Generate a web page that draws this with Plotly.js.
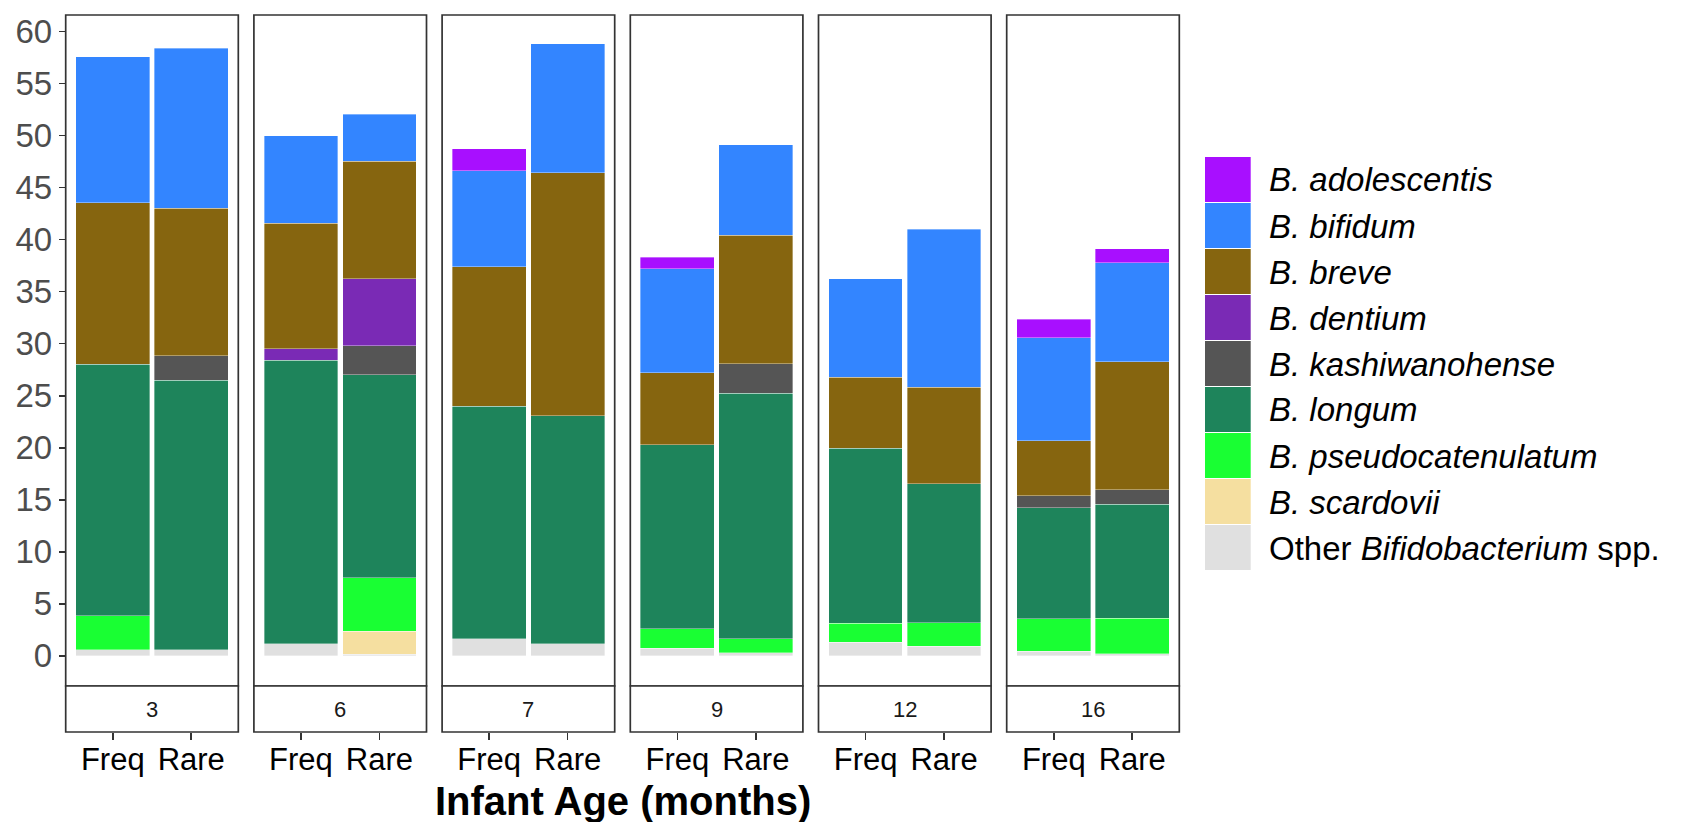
<!DOCTYPE html>
<html>
<head>
<meta charset="utf-8">
<script src="https://cdn.plot.ly/plotly-3.0.1.min.js"></script>
<style>html,body{margin:0;padding:0;background:#fff;}#chart{width:1682px;height:822px;}</style>
</head>
<body>
<div id="chart"></div>
<script>
// ---- data ----
const ages = ['3', '6', '7', '9', '12', '16'];
const groups = ['Freq', 'Rare'];
// values ordered: [3 Freq, 3 Rare, 6 Freq, 6 Rare, 7 Freq, 7 Rare, 9 Freq, 9 Rare, 12 Freq, 12 Rare, 16 Freq, 16 Rare]
const other       = [0.60, 0.58, 1.18, 0.15, 1.63, 1.15, 0.74, 0.32, 1.32, 0.90, 0.42, 0.20];
const scardovii   = [0, 0, 0, 2.22, 0, 0, 0, 0, 0, 0, 0, 0];
const pseudocat   = [3.24, 0, 0, 5.16, 0, 0, 1.85, 1.31, 1.82, 2.27, 3.14, 3.39];
const longum      = [24.19, 25.92, 27.24, 19.51, 22.37, 21.95, 17.69, 23.62, 16.82, 13.36, 10.69, 10.99];
const kashiwa     = [0, 2.36, 0, 2.75, 0, 0, 0, 2.81, 0, 0, 1.16, 1.37];
const dentium     = [0, 0, 1.11, 6.44, 0, 0, 0, 0, 0, 0, 0, 0];
const breve       = [15.51, 14.17, 12.07, 11.31, 13.42, 23.32, 6.92, 12.37, 6.82, 9.29, 5.25, 12.34];
const bifidum     = [14.06, 15.37, 8.38, 4.52, 9.22, 12.43, 9.99, 8.68, 9.48, 15.19, 9.93, 9.51];
const adolescentis= [0, 0, 0, 0, 2.09, 0, 1.13, 0, 0, 0, 1.77, 1.32];

// stacking order bottom -> top
const speciesNames = ['Other <i>Bifidobacterium</i> spp.', '<i>B. scardovii</i>', '<i>B. pseudocatenulatum</i>',
  '<i>B. longum</i>', '<i>B. kashiwanohense</i>', '<i>B. dentium</i>', '<i>B. breve</i>', '<i>B. bifidum</i>', '<i>B. adolescentis</i>'];
const speciesValues = [other, scardovii, pseudocat, longum, kashiwa, dentium, breve, bifidum, adolescentis];
const speciesColors = ['#E0E0E0', '#F5DFA0', '#19FF33', '#1E845B', '#555555', '#7A2AB5', '#86650F', '#3385FF', '#A80FFF'];

// ---- layout helpers (pixels -> paper) ----
const W = 1682, H = 822;
const fx = p => p / W;
const fy = p => 1 - p / H;
const panelLeft0 = 65.7, panelStep = 188.2, panelW = 172.6;
const panelTop = 15, panelBottom = 686, stripBottom = 732;
const FONT = '"Liberation Sans", Arial, Helvetica, sans-serif';

const traces = [];
const layout = {
  width: W, height: H,
  margin: {l: 0, r: 0, t: 0, b: 0},
  paper_bgcolor: '#fff', plot_bgcolor: 'rgba(0,0,0,0)',
  barmode: 'stack', bargap: 0,
  showlegend: false,
  font: {family: FONT},
  shapes: [], annotations: [],
  yaxis: {
    domain: [fy(panelBottom), fy(panelTop)],
    range: [-2.9, 61.6], dtick: 5, tick0: 0,
    anchor: 'free', position: fx(panelLeft0),
    ticks: 'outside', ticklen: 7, tickwidth: 1.5, tickcolor: '#333333',
    tickfont: {family: FONT, size: 33, color: '#4D4D4D'},
    showgrid: false, zeroline: false, showline: false, fixedrange: true
  }
};

ages.forEach((age, p) => {
  const ax = p === 0 ? 'x' : 'x' + (p + 1);
  const axKey = p === 0 ? 'xaxis' : 'xaxis' + (p + 1);
  const left = panelLeft0 + panelStep * p, right = left + panelW;
  layout[axKey] = {
    domain: [fx(left), fx(right)],
    range: [-0.6, 1.6], type: 'category',
    anchor: 'free', position: fy(stripBottom),
    ticks: 'outside', ticklen: 7, tickwidth: 1.5, tickcolor: '#333333',
    ticklabelstandoff: -7,
    tickfont: {family: FONT, size: 31, color: '#000000'},
    showgrid: false, zeroline: false, showline: false, fixedrange: true
  };
  speciesValues.forEach((vals, s) => {
    traces.push({
      type: 'bar', xaxis: ax, yaxis: 'y',
      x: groups,
      y: [vals[2 * p] || null, vals[2 * p + 1] || null],
      width: 0.94,
      name: speciesNames[s],
      marker: {color: speciesColors[s], line: {color: 'rgba(255,255,255,0.6)', width: 0.6}},
      hoverinfo: 'skip'
    });
  });
  // panel border
  layout.shapes.push({type: 'rect', xref: 'paper', yref: 'paper', x0: fx(left), x1: fx(right),
    y0: fy(panelBottom), y1: fy(panelTop), line: {color: '#333333', width: 1.7}, fillcolor: 'rgba(0,0,0,0)', layer: 'above'});
  // strip box
  layout.shapes.push({type: 'rect', xref: 'paper', yref: 'paper', x0: fx(left), x1: fx(right),
    y0: fy(stripBottom), y1: fy(panelBottom), line: {color: '#333333', width: 1.7}, fillcolor: '#FFFFFF', layer: 'above'});
  layout.annotations.push({xref: 'paper', yref: 'paper', x: fx((left + right) / 2), y: fy((panelBottom + stripBottom) / 2),
    text: age, showarrow: false, xanchor: 'center', yanchor: 'middle',
    font: {family: FONT, size: 22, color: '#1A1A1A'}});
});

// axis title
layout.annotations.push({xref: 'paper', yref: 'paper', x: fx(622.5), y: fy(801), text: '<b>Infant Age (months)</b>',
  showarrow: false, xanchor: 'center', yanchor: 'middle', font: {family: FONT, size: 40, color: '#000000'}});

// legend (top -> bottom = reverse of stacking order)
const legTop = 157, legRow = 46, swL = 1205, swR = 1250.7, txtX = 1267;
for (let i = 0; i < speciesNames.length; i++) {
  const s = speciesNames.length - 1 - i;
  const top = legTop + legRow * i;
  layout.shapes.push({type: 'rect', xref: 'paper', yref: 'paper', x0: fx(swL), x1: fx(swR),
    y0: fy(top + legRow - 1), y1: fy(top), line: {width: 0}, fillcolor: speciesColors[s]});
  layout.annotations.push({xref: 'paper', yref: 'paper', x: fx(txtX), y: fy(top + legRow / 2),
    text: speciesNames[s], showarrow: false, xanchor: 'left', yanchor: 'middle',
    font: {family: FONT, size: 33, color: '#000000'}});
}

Plotly.newPlot('chart', traces, layout, {displayModeBar: false, staticPlot: true});
</script>
</body>
</html>
